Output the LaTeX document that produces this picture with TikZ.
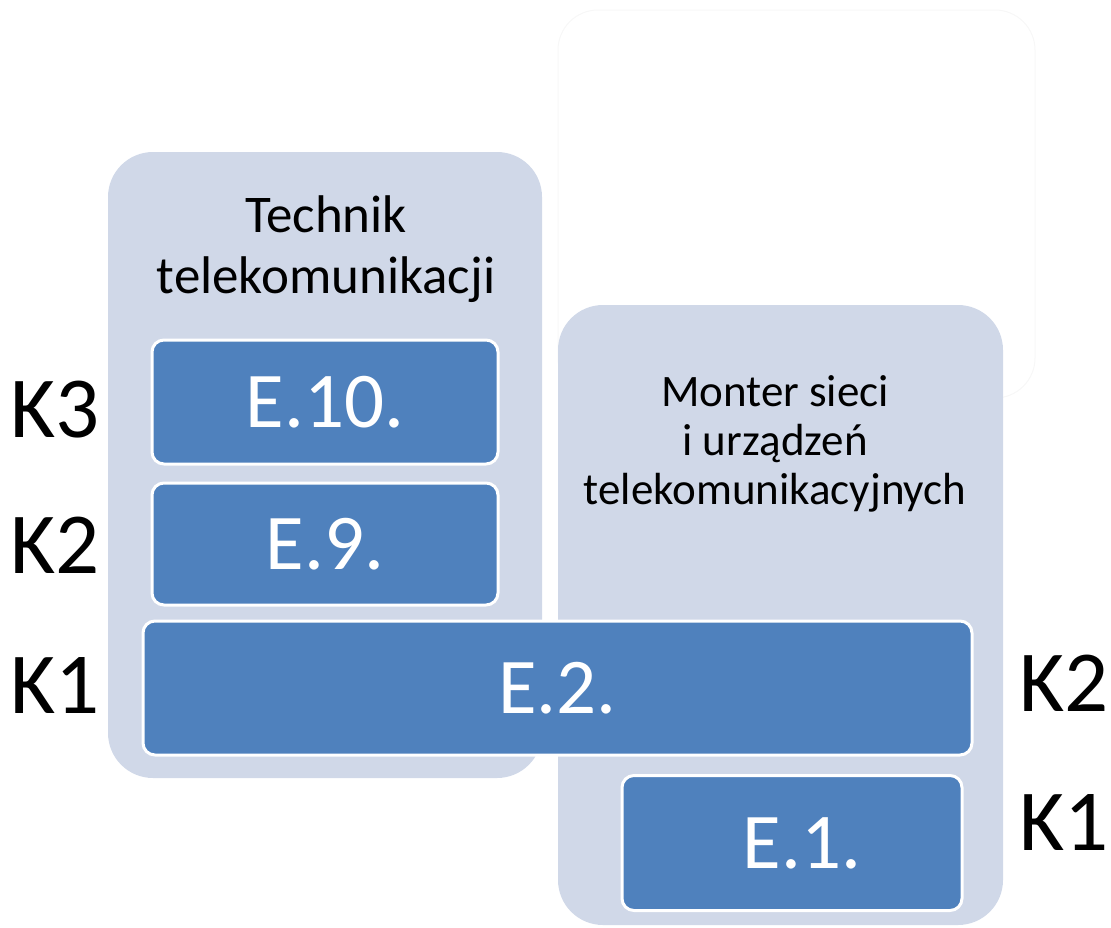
\documentclass[tikz,border=0pt]{standalone}
\usepackage{fontspec}
\setmainfont{Carlito}
\usepackage{tikz}
\definecolor{panelgray}{RGB}{208,216,232}
\definecolor{exblue}{RGB}{79,129,189}

\begin{document}
\begin{tikzpicture}[x=1pt,y=-1pt]

	\tikzset{panel/.style={fill=panelgray, rounded corners=45pt, inner sep=0pt},
		ebox/.style={fill=exblue, draw=white, line width=3pt, rounded corners=12pt, text=white, font=\fontsize{79}{88}\selectfont, inner sep=0pt},
		klabel/.style={font=\fontsize{87}{96}\selectfont, inner sep=0pt},
		title/.style={align=center, inner sep=0pt}}

	\useasboundingbox (0,0) rectangle (1111,927);

	% faint empty box top right
	\draw[gray!6, line width=1pt, rounded corners=40pt] (558,10) rectangle (1035,398);

	\node[panel, minimum width=434pt, minimum height=626pt] (technik) at (325,465) {};
	\node[panel, minimum width=445pt, minimum height=620pt] (monter) at (780.5,615) {};

	\node[title, font=\fontsize{53}{61}\selectfont] (ttitle) at (326,249) {Technik\\telekomunikacji};
	\node[title, font=\fontsize{45}{49}\selectfont] (mtitle) at (775,444) {Monter sieci\\i urządzeń\\telekomunikacyjnych};

	\node[ebox, minimum width=346pt, minimum height=124pt] (e10) at (325,402) {E.10.};
	\node[ebox, minimum width=346pt, minimum height=122pt] (e9) at (325,544) {E.9.};
	\node[ebox, minimum width=829pt, minimum height=134pt] (e2) at (557.5,688) {E.2.};
	\node[ebox, minimum width=340pt, minimum height=135pt] (e1) at (792,843) {\hspace*{20pt}E.1.};

	\node[klabel] (k3l) at (55,410) {K3};
	\node[klabel] (k2l) at (55,545) {K2};
	\node[klabel] (k1l) at (55,685) {K1};
	\node[klabel] (k2r) at (1064,683) {K2};
	\node[klabel] (k1r) at (1064,822) {K1};

\end{tikzpicture}
\end{document}
